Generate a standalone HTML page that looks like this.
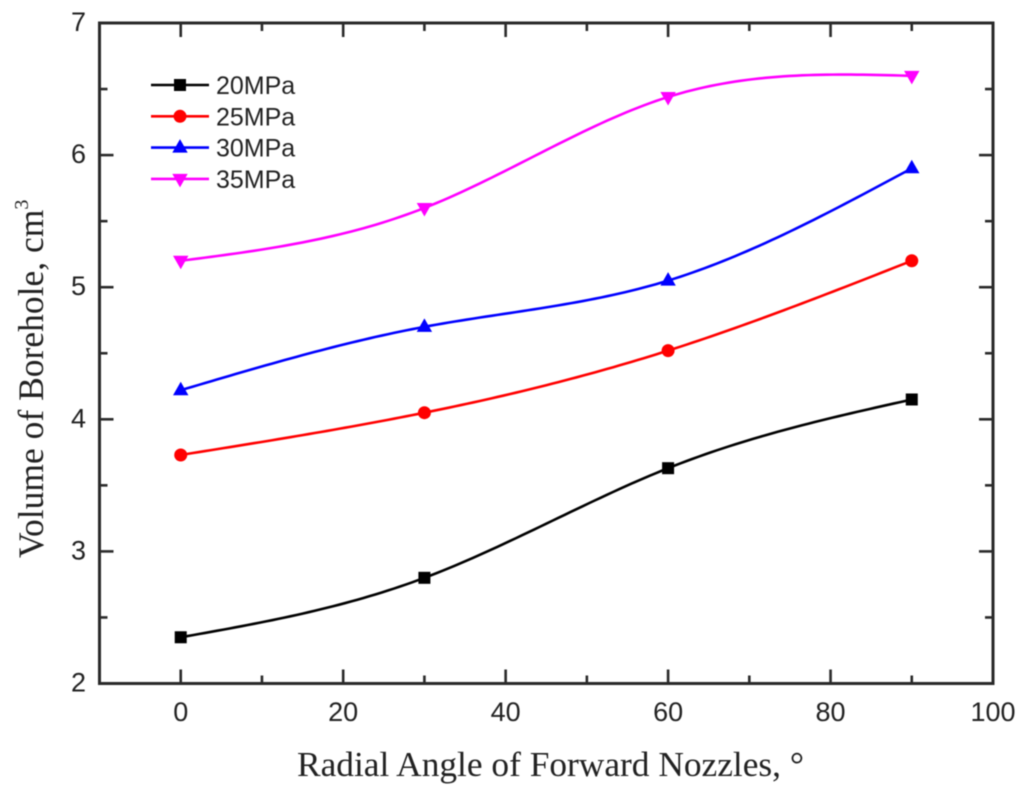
<!DOCTYPE html>
<html>
<head>
<meta charset="utf-8">
<title>Volume of Borehole vs Radial Angle</title>
<style>
html,body{margin:0;padding:0;background:#fff;width:1024px;height:794px;overflow:hidden}
svg{display:block}
.tick{font-family:"Liberation Sans",sans-serif;font-size:27px;fill:#222}
.leg{font-family:"Liberation Sans",sans-serif;font-size:25px;fill:#222}
.title{font-family:"Liberation Serif",serif;font-size:34.5px;fill:#222}
.ytitle{font-family:"Liberation Serif",serif;font-size:35.5px;fill:#222}
</style>
</head>
<body>
<svg id="chart" xmlns="http://www.w3.org/2000/svg" width="1024" height="794" viewBox="0 0 1024 794">
<defs><filter id="soft" x="-5%" y="-5%" width="110%" height="110%"><feGaussianBlur stdDeviation="0.55"/></filter></defs>
<g id="root" filter="url(#soft)"></g>
</svg>
<script>
const angles = [0, 30, 60, 90];
const seriesNames = ['20MPa', '25MPa', '30MPa', '35MPa'];
const series20 = [2.35, 2.80, 3.63, 4.15];
const series25 = [3.73, 4.05, 4.52, 5.20];
const series30 = [4.22, 4.70, 5.05, 5.90];
const series35 = [5.20, 5.60, 6.44, 6.60];
const xTicks = [0, 20, 40, 60, 80, 100];
const xMinorTicks = [10, 30, 50, 70, 90];
const yTicks = [2, 3, 4, 5, 6, 7];
const yMinorTicks = [2.5, 3.5, 4.5, 5.5, 6.5];

const NS = 'http://www.w3.org/2000/svg';
const root = document.getElementById('root');
const L = 99.5, R = 993, T = 23, B = 683.5;
const xMin = -10, xMax = 100, yMin = 2, yMax = 7;
const X = v => L + (v - xMin) / (xMax - xMin) * (R - L);
const Y = v => B - (v - yMin) / (yMax - yMin) * (B - T);

function add(tag, attrs, parent, text) {
  const el = document.createElementNS(NS, tag);
  for (const k in attrs) el.setAttribute(k, attrs[k]);
  if (text !== undefined) el.textContent = text;
  (parent || root).appendChild(el);
  return el;
}

// natural cubic spline through the data points
function splinePath(xs, ys) {
  const n = xs.length;
  const h = [], a = [], c = new Array(n).fill(0);
  for (let i = 0; i < n - 1; i++) h.push(xs[i + 1] - xs[i]);
  const l = [1], mu = [0], z = [0];
  for (let i = 1; i < n - 1; i++) {
    a[i] = 3 * ((ys[i + 1] - ys[i]) / h[i] - (ys[i] - ys[i - 1]) / h[i - 1]);
    l[i] = 2 * (xs[i + 1] - xs[i - 1]) - h[i - 1] * mu[i - 1];
    mu[i] = h[i] / l[i];
    z[i] = (a[i] - h[i - 1] * z[i - 1]) / l[i];
  }
  for (let j = n - 2; j > 0; j--) c[j] = z[j] - mu[j] * c[j + 1];
  let d = '';
  for (let i = 0; i < n - 1; i++) {
    for (let s = 0; s <= 40; s++) {
      const t = xs[i] + h[i] * s / 40;
      const A = (xs[i + 1] - t) / h[i], Bq = (t - xs[i]) / h[i];
      const v = A * ys[i] + Bq * ys[i + 1] +
        ((A * A * A - A) * c[i] + (Bq * Bq * Bq - Bq) * c[i + 1]) * h[i] * h[i] / 3;
      d += (d ? 'L' : 'M') + X(t).toFixed(2) + ' ' + Y(v).toFixed(2);
    }
  }
  return d;
}

function marker(kind, cx, cy, color, parent) {
  let el;
  if (kind === 0) {
    el = add('rect', {x: cx - 6, y: cy - 6, width: 12, height: 12, fill: color}, parent);
  } else if (kind === 1) {
    el = add('circle', {cx: cx, cy: cy, r: 6.5, fill: color}, parent);
  } else if (kind === 2) {
    el = add('polygon', {points: (cx - 7.7) + ',' + (cy + 5) + ' ' + (cx + 7.7) + ',' + (cy + 5) + ' ' + cx + ',' + (cy - 8.5), fill: color}, parent);
  } else {
    el = add('polygon', {points: (cx - 7.7) + ',' + (cy - 5) + ' ' + (cx + 7.7) + ',' + (cy - 5) + ' ' + cx + ',' + (cy + 8.5), fill: color}, parent);
  }
  return el;
}

const seriesValues = [series20, series25, series30, series35];
const colors = ['#000000', '#ff0000', '#0000ff', '#ff00ff'];

// series
seriesValues.forEach(function (vals, i) {
  const g = add('g', {});
  
  
  const line = add('path', {d: splinePath(angles, vals), fill: 'none', stroke: colors[i], 'stroke-width': 2.6}, g);
  
  
  vals.forEach(function (v, j) {
    const mk = marker(i, X(angles[j]), Y(v), colors[i], g);
    
    
  });
});

// axes frame
const frame = add('rect', {x: L, y: T, width: R - L, height: B - T, fill: 'none', stroke: '#2a2a2a', 'stroke-width': 3});



function tickLine(x1, y1, x2, y2, name) {
  const t = add('line', {x1: x1, y1: y1, x2: x2, y2: y2, stroke: '#2a2a2a', 'stroke-width': 2.6});
  
  
}

xTicks.forEach(function (v) {
  tickLine(X(v), B, X(v), B - 14, 'x-major-tick');
  tickLine(X(v), T, X(v), T + 14, 'x-major-tick-top');
  const t = add('text', {x: X(v), y: 721, 'text-anchor': 'middle', class: 'tick'}, root, String(v));
  
  
});
xMinorTicks.forEach(function (v) {
  tickLine(X(v), B, X(v), B - 8, 'x-minor-tick');
  tickLine(X(v), T, X(v), T + 8, 'x-minor-tick-top');
});
yTicks.forEach(function (v) {
  tickLine(L, Y(v), L + 14, Y(v), 'y-major-tick');
  tickLine(R, Y(v), R - 14, Y(v), 'y-major-tick-right');
  const t = add('text', {x: 86, y: Y(v) + 8, 'text-anchor': 'end', class: 'tick'}, root, String(v));
  
  
});
yMinorTicks.forEach(function (v) {
  tickLine(L, Y(v), L + 8, Y(v), 'y-minor-tick');
  tickLine(R, Y(v), R - 8, Y(v), 'y-minor-tick-right');
});

// legend
const legend = add('g', {});


seriesNames.forEach(function (name, i) {
  const y = 85 + i * 31.3;
  const e = add('g', {}, legend);
  
  
  add('line', {x1: 151, y1: y, x2: 209, y2: y, stroke: colors[i], 'stroke-width': 2.6}, e);
  marker(i, 180, y, colors[i], e);
  add('text', {x: 216, y: y + 9, class: 'leg'}, e, name);
});

// axis titles
const xt = add('text', {x: 297, y: 776, class: 'title', textLength: 507, lengthAdjust: 'spacingAndGlyphs'}, root, 'Radial Angle of Forward Nozzles, °');



const yt = add('text', {transform: 'translate(43,558) rotate(-90)', class: 'ytitle'}, root);


add('tspan', {}, yt, 'Volume of Borehole, cm');
add('tspan', {dy: -15, 'font-size': 20}, yt, '3');
</script>
</body>
</html>
